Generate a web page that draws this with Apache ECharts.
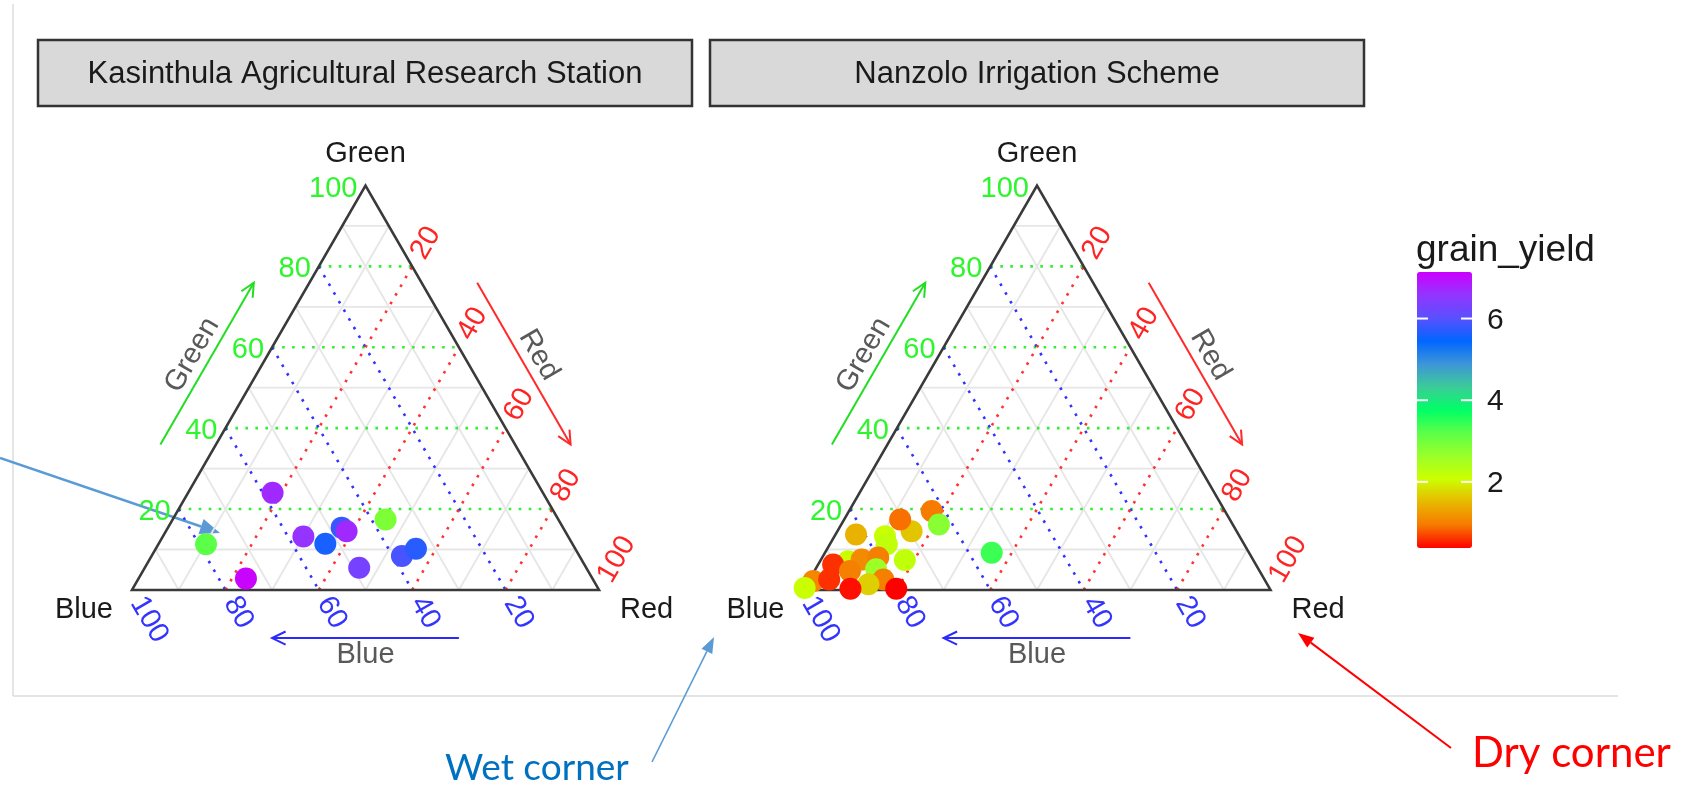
<!DOCTYPE html>
<html>
<head>
<meta charset="utf-8">
<title>grain_yield ternary plots</title>
<script src="https://cdn.jsdelivr.net/npm/echarts@6/dist/echarts.min.js"></script>
<style>
  html, body { margin: 0; padding: 0; background: #ffffff; }
  #chart { width: 1691px; height: 794px; }
</style>
</head>
<body>
<div id="chart"></div>
<script>
// ---- Facet titles and corner names ----
const panels = ['Kasinthula Agricultural Research Station', 'Nanzolo Irrigation Scheme'];
const vertexNames = ['Green', 'Blue', 'Red'];

// ---- Kasinthula: class shares (%) and grain yield ----
const kasGreen = [24.0, 11.3, 2.8, 13.2, 11.4, 15.4, 14.5, 17.4, 5.5, 8.4, 10.2];
const kasBlue  = [57.9, 78.5, 74.2, 56.7, 52.9, 47.4, 46.8, 37.0, 48.6, 38.0, 34.1];
const kasRed   = [18.1, 10.2, 23.0, 30.1, 35.7, 37.2, 38.7, 45.6, 45.9, 53.6, 55.7];
const kasYield = [6.7, 3.2, 7.1, 6.6, 5.6, 5.8, 6.7, 2.9, 6.3, 5.9, 5.7];

// ---- Nanzolo: class shares (%) and grain yield ----
const nanGreen = [14.5, 17.4, 19.5, 16.2, 13.7, 13.3, 11.3, 7.4, 9.2, 7.1, 7.5, 8.0, 6.3, 4.7, 5.1, 2.6, 1.4, 2.2, 2.6, 0.5, 0.3, 0.3];
const nanBlue  = [69.6, 70.6, 62.8, 62.9, 81.9, 75.9, 76.5, 74.6, 55.1, 86.9, 83.8, 80.0, 90.5, 87.7, 81.9, 81.6, 85.4, 96.8, 93.2, 99.5, 89.8, 80.0];
const nanRed   = [15.9, 12.0, 17.7, 20.9, 4.4, 10.8, 12.2, 18.0, 35.7, 6.0, 8.7, 12.0, 3.2, 7.6, 13.0, 15.8, 13.2, 1.0, 4.2, 0.0, 9.9, 19.7];
const nanYield = [1.6, 0.9, 0.95, 2.8, 1.45, 2.1, 2.2, 2.2, 3.4, 2.1, 1.1, 1.0, 0.6, 1.0, 2.6, 1.0, 1.7, 1.05, 0.6, 2.1, 0.45, 0.38];

// ---- Scales ----
const tickBreaks  = [20, 40, 60, 80, 100];
const majorBreaks = [20, 40, 60, 80];
const minorBreaks = [10, 30, 50, 70, 90];
const legendTicks = [2, 4, 6];
const yieldMin = 0.38, yieldMax = 7.14;
const yieldColours = ['#FF0000', '#F77A00', '#E8B800', '#CCFF00', '#9AFF2A', '#5CFF48',
                      '#00FF66', '#3CCB98', '#3E95D8', '#0066FF', '#5A50FF', '#9335FF', '#CC00FF'];

const stations = [
  { green: kasGreen, blue: kasBlue, red: kasRed, yield: kasYield },
  { green: nanGreen, blue: nanBlue, red: nanRed, yield: nanYield }
];

const FONT = '"Liberation Sans", Arial, Helvetica, sans-serif';
const H = Math.sqrt(3) / 2;
const YMAX = 100 * H;
const GRID_LEFT = [132, 803.5];
const GRID_TOP = 185.5, GRID_W = 467, GRID_H = 467 * H;

// composition (green, blue, red) -> plane coordinates of the triangle
function tern(g, b, r) {
  const s = g + b + r;
  return [(r + g / 2) * 100 / s, g * H * 100 / s];
}
// iso-lines of each component
const isoGreen = v => [v / 2, v * H, 100 - v / 2, v * H];
const isoBlue  = v => [(100 - v) / 2, (100 - v) * H, 100 - v, 0];
const isoRed   = v => [v, 0, v + (100 - v) / 2, (100 - v) * H];
const lerp = (a, b, t) => [a[0] + (b[0] - a[0]) * t, a[1] + (b[1] - a[1]) * t];

function segSeries(gi, segs, style, z) {
  return {
    type: 'custom', xAxisIndex: gi, yAxisIndex: gi, clip: false, silent: true, z: z,
    data: segs, encode: { x: [0, 2], y: [1, 3] },
    renderItem: (params, api) => {
      const p1 = api.coord([api.value(0), api.value(1)]);
      const p2 = api.coord([api.value(2), api.value(3)]);
      return { type: 'line', shape: { x1: p1[0], y1: p1[1], x2: p2[0], y2: p2[1] },
               style: Object.assign({ fill: null, lineCap: 'butt' }, style) };
    }
  };
}

function textSeries(gi, items, z) {
  return {
    type: 'custom', xAxisIndex: gi, yAxisIndex: gi, clip: false, silent: true, z: z,
    data: items.map(t => [t.pos[0], t.pos[1]]), encode: { x: 0, y: 1 },
    renderItem: (params, api) => {
      const t = items[params.dataIndex];
      const p = api.coord([api.value(0), api.value(1)]);
      return {
        type: 'text', x: p[0] + (t.dx || 0), y: p[1] + (t.dy || 0), rotation: t.rot || 0,
        style: { text: t.text, fill: t.color, font: t.size + 'px ' + FONT,
                 align: t.align || 'center', verticalAlign: t.va || 'middle',
                 textAlign: t.align || 'center', textVerticalAlign: t.va || 'middle' }
      };
    }
  };
}

// axis arrows along the three edges
const axisArrows = [
  { name: 'Green', a: [0, 0], b: [50, YMAX], n: [-H, 0.5], color: '#22dd22', rot: Math.PI / 3 },
  { name: 'Red',   a: [50, YMAX], b: [100, 0], n: [H, 0.5], color: '#ff2a2a', rot: -Math.PI / 3 },
  { name: 'Blue',  a: [100, 0], b: [0, 0], n: [0, -1], color: '#2a2aff', rot: 0 }
];
const ARROW_OFF = 10.3, TITLE_OFF = 14;

function arrowSeries(gi) {
  const data = axisArrows.map(ar => {
    const s = lerp(ar.a, ar.b, 0.3), e = lerp(ar.a, ar.b, 0.7);
    return [s[0] + ar.n[0] * ARROW_OFF, s[1] + ar.n[1] * ARROW_OFF,
            e[0] + ar.n[0] * ARROW_OFF, e[1] + ar.n[1] * ARROW_OFF];
  });
  return {
    type: 'custom', xAxisIndex: gi, yAxisIndex: gi, clip: false, silent: true, z: 3,
    data: data, encode: { x: [0, 2], y: [1, 3] },
    renderItem: (params, api) => {
      const ar = axisArrows[params.dataIndex];
      const p1 = api.coord([api.value(0), api.value(1)]);
      const p2 = api.coord([api.value(2), api.value(3)]);
      const ang = Math.atan2(p2[1] - p1[1], p2[0] - p1[0]);
      const L = 15, sp = 0.45;
      const h1 = [p2[0] - L * Math.cos(ang - sp), p2[1] - L * Math.sin(ang - sp)];
      const h2 = [p2[0] - L * Math.cos(ang + sp), p2[1] - L * Math.sin(ang + sp)];
      const st = { stroke: ar.color, lineWidth: 2, fill: null };
      return { type: 'group', children: [
        { type: 'line', shape: { x1: p1[0], y1: p1[1], x2: p2[0], y2: p2[1] }, style: st },
        { type: 'polyline', shape: { points: [h1, p2, h2] }, style: st }
      ] };
    }
  };
}

const series = [];
const scatterIdx = [];
const GREEN_TXT = '#2ef52e', BLUE_TXT = '#3434ff', RED_TXT = '#ff2424';

[0, 1].forEach(gi => {
  // minor grid
  series.push(segSeries(gi, minorBreaks.flatMap(v => [isoGreen(v), isoBlue(v), isoRed(v)]),
    { stroke: '#e6e6e6', lineWidth: 1.8 }, 1));
  // major grid, dotted in each component's colour
  series.push(segSeries(gi, majorBreaks.map(isoGreen), { stroke: '#33ee33', lineWidth: 2.6, lineDash: [2.6, 7.4] }, 2));
  series.push(segSeries(gi, majorBreaks.map(isoBlue),  { stroke: '#3333ff', lineWidth: 2.6, lineDash: [2.6, 7.4] }, 2));
  series.push(segSeries(gi, majorBreaks.map(isoRed),   { stroke: '#ff3333', lineWidth: 2.6, lineDash: [2.6, 7.4] }, 2));
  // triangle outline
  series.push({
    type: 'custom', xAxisIndex: gi, yAxisIndex: gi, clip: false, silent: true, z: 3,
    data: [[0, 0, 100, 0, 50, YMAX]], encode: { x: [0, 2, 4], y: [1, 3, 5] },
    renderItem: (params, api) => {
      const pts = [0, 2, 4].map(k => api.coord([api.value(k), api.value(k + 1)]));
      return { type: 'polygon', shape: { points: pts },
               style: { fill: null, stroke: '#3a3a3a', lineWidth: 2.6, lineJoin: 'miter' } };
    }
  });
  // tick labels
  const labels = [];
  tickBreaks.forEach(v => {
    labels.push({ pos: [v / 2, v * H], text: String(v), dx: -8, dy: 3, align: 'right', color: GREEN_TXT, size: 29 });
    labels.push({ pos: [100 - v, 0], text: String(v), dx: 5, dy: 8.7, rot: -Math.PI / 3, align: 'left', color: BLUE_TXT, size: 29 });
    labels.push({ pos: [v + (100 - v) / 2, (100 - v) * H], text: String(v), dx: 5.5, dy: -9.5, rot: Math.PI / 3, align: 'left', color: RED_TXT, size: 29 });
  });
  // arrow titles
  axisArrows.forEach(ar => {
    const m = lerp(ar.a, ar.b, 0.5);
    labels.push({ pos: [m[0] + ar.n[0] * TITLE_OFF, m[1] + ar.n[1] * TITLE_OFF], text: ar.name,
                  rot: ar.rot, color: '#595959', size: 29 });
  });
  // corner names
  labels.push({ pos: [50, YMAX], text: vertexNames[0], dy: -32, color: '#1a1a1a', size: 29 });
  labels.push({ pos: [0, 0], text: vertexNames[1], dx: -19, dy: 20.5, align: 'right', color: '#1a1a1a', size: 29 });
  labels.push({ pos: [100, 0], text: vertexNames[2], dx: 21, dy: 20.5, align: 'left', color: '#1a1a1a', size: 29 });
  series.push(textSeries(gi, labels, 6));
  series.push(arrowSeries(gi));
  // sample points
  const st = stations[gi];
  scatterIdx.push(series.length);
  series.push({
    type: 'scatter', xAxisIndex: gi, yAxisIndex: gi, clip: false, z: 5,
    symbol: 'circle', symbolSize: 22, itemStyle: { opacity: 1 },
    data: st.green.map((g, i) => tern(g, st.blue[i], st.red[i]).concat(st.yield[i]))
  });
});

// colour bar ticks and labels
series.push({
  type: 'custom', xAxisIndex: 2, yAxisIndex: 2, clip: false, silent: true, z: 10,
  data: legendTicks.map(v => [0, v]), encode: { y: 1 },
  renderItem: (params, api) => {
    const v = api.value(1);
    const p0 = api.coord([0, v]), p1 = api.coord([1, v]);
    const st = { stroke: '#ffffff', lineWidth: 2 };
    return { type: 'group', children: [
      { type: 'line', shape: { x1: p0[0], y1: p0[1], x2: p0[0] + 11, y2: p0[1] }, style: st },
      { type: 'line', shape: { x1: p1[0] - 11, y1: p1[1], x2: p1[0], y2: p1[1] }, style: st },
      { type: 'text', x: p1[0] + 15, y: p1[1] + 2,
        style: { text: String(v), fill: '#1a1a1a', font: '30px ' + FONT, align: 'left', verticalAlign: 'middle',
                 textAlign: 'left', textVerticalAlign: 'middle' } }
    ] };
  }
});

// facet strips, frame and annotations
const graphic = [
  { type: 'line', shape: { x1: 13, y1: 4, x2: 13, y2: 696 }, style: { stroke: '#dcdcdc', lineWidth: 1.5 } },
  { type: 'line', shape: { x1: 13, y1: 696, x2: 1618, y2: 696 }, style: { stroke: '#dcdcdc', lineWidth: 1.5 } },
  { type: 'text', left: 1416, top: 232,
    style: { text: 'grain_yield', fill: '#1a1a1a', font: '37px ' + FONT } }
];
[38, 710].forEach((x0, i) => {
  graphic.push({ type: 'rect', shape: { x: x0, y: 40, width: 654, height: 66 },
                 style: { fill: '#d9d9d9', stroke: '#333333', lineWidth: 2.5 } });
  graphic.push({ type: 'text', x: x0 + 327, y: 74,
                 style: { text: panels[i], fill: '#1a1a1a', font: '31px ' + FONT,
                          align: 'center', verticalAlign: 'middle' } });
});
function annArrow(x1, y1, x2, y2, colour, w, L, hw) {
  const ang = Math.atan2(y2 - y1, x2 - x1);
  const bx = x2 - L * Math.cos(ang), by = y2 - L * Math.sin(ang);
  const nx = -Math.sin(ang) * hw, ny = Math.cos(ang) * hw;
  graphic.push({ type: 'line', shape: { x1: x1, y1: y1, x2: bx, y2: by }, style: { stroke: colour, lineWidth: w } });
  graphic.push({ type: 'polygon', shape: { points: [[x2, y2], [bx + nx, by + ny], [bx - nx, by - ny]] },
                 style: { fill: colour } });
}
annArrow(0, 458, 220, 533, '#5b9bd5', 2.5, 20, 8);
annArrow(652, 762, 714, 637, '#5b9bd5', 1.6, 16, 6);
annArrow(1451, 748, 1298, 633, '#ff0000', 2, 16, 6);
graphic.push({ type: 'text', x: 445, y: 768,
  style: { text: 'Wet corner', fill: '#0070c0', font: '37px Lato, "Noto Sans", sans-serif', align: 'left', verticalAlign: 'middle' } });
graphic.push({ type: 'text', x: 1472, y: 753,
  style: { text: 'Dry corner', fill: '#ff0000', font: '42px Lato, "Noto Sans", sans-serif', align: 'left', verticalAlign: 'middle' } });

const option = {
  animation: false,
  backgroundColor: '#ffffff',
  grid: [
    { left: GRID_LEFT[0], top: GRID_TOP, width: GRID_W, height: GRID_H },
    { left: GRID_LEFT[1], top: GRID_TOP, width: GRID_W, height: GRID_H },
    { left: 1417, top: 272, width: 55, height: 276 }
  ],
  xAxis: [
    { gridIndex: 0, type: 'value', min: 0, max: 100, show: false },
    { gridIndex: 1, type: 'value', min: 0, max: 100, show: false },
    { gridIndex: 2, type: 'value', min: 0, max: 1, show: false }
  ],
  yAxis: [
    { gridIndex: 0, type: 'value', min: 0, max: YMAX, show: false },
    { gridIndex: 1, type: 'value', min: 0, max: YMAX, show: false },
    { gridIndex: 2, type: 'value', min: yieldMin, max: yieldMax, show: false }
  ],
  visualMap: {
    type: 'continuous', min: yieldMin, max: yieldMax, dimension: 2, seriesIndex: scatterIdx,
    inRange: { color: yieldColours }, orient: 'vertical', left: 1417, top: 272,
    itemWidth: 55, itemHeight: 276, padding: 0, calculable: false, hoverLink: false,
    text: null, showLabel: false
  },
  graphic: graphic,
  series: series
};

const chart = echarts.init(document.getElementById('chart'));
chart.setOption(option);
</script>
</body>
</html>
